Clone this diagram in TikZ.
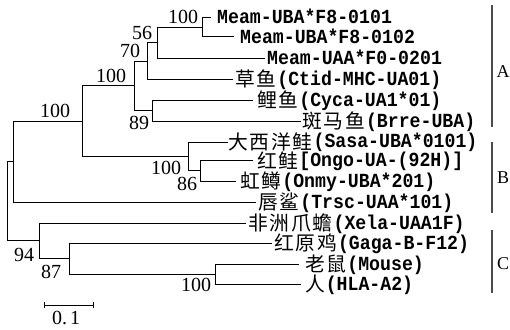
\documentclass[tikz,border=0pt]{standalone}
\usepackage{fontspec}
\setmainfont{Liberation Serif}
\newfontfamily\latmono{Liberation Mono}[FakeStretch=0.91]
\newfontfamily\cjk{Noto Sans CJK SC}
\makeatletter
\newcommand{\zh}[1]{{\cjk\mdseries\fontsize{19.8}{22}\selectfont
  \@tfor\zhchar:=#1\do{\makebox[21.6pt]{\raisebox{-1.8pt}{\zhchar}}}}}
\makeatother
\tikzset{
  edge/.style={line width=1pt, line cap=rect},
  leaf/.style={anchor=base west, inner sep=0pt,
    font=\latmono\bfseries\fontsize{20}{22}\selectfont},
  boot/.style={anchor=base, inner sep=0pt, font=\fontsize{20}{22}\selectfont},
  grp/.style={anchor=base, inner sep=0pt, font=\fontsize{18}{20}\selectfont},
  bar/.style={line width=1.3pt, black!70},
}
\begin{document}
\begin{tikzpicture}[x=1pt,y=-1pt]
\useasboundingbox (0,0) rectangle (510,329);
% leaf ends
\coordinate (e1) at (210,18);
\coordinate (e2) at (233,37);
\coordinate (e3) at (264,58);
\coordinate (e4) at (232,79);
\coordinate (e5) at (252,100);
\coordinate (e6) at (300,121);
\coordinate (e7) at (227,142);
\coordinate (e8) at (252,160);
\coordinate (e9) at (235,181);
\coordinate (e10) at (255,202);
\coordinate (e11) at (245,223);
\coordinate (e12) at (271,243);
\coordinate (e13) at (298,264);
\coordinate (e14) at (300,284);
% leaf labels
\node[leaf] (t1) at (217,24) {Meam-UBA*F8-0101};
\node[leaf] (t2) at (240,43) {Meam-UBA*F8-0102};
\node[leaf] (t3) at (267,64) {Meam-UAA*F0-0201};
\node[leaf] (t4) at (234,85) {\zh{草鱼}(Ctid-MHC-UA01)};
\node[leaf] (t5) at (256,106) {\zh{鲤鱼}(Cyca-UA1*01)};
\node[leaf] (t6) at (301,127) {\zh{斑马鱼}(Brre-UBA)};
\node[leaf] (t7) at (227,147.5) {\zh{大西洋鲑}(Sasa-UBA*0101)};
\node[leaf] (t8) at (256,166.5) {\zh{红鲑}[Ongo-UA-(92H)]};
\node[leaf] (t9) at (239,187) {\zh{虹鳟}(Onmy-UBA*201)};
\node[leaf] (t10) at (257,208) {\zh{唇鲨}(Trsc-UAA*101)};
\node[leaf] (t11) at (247,229) {\zh{非洲爪蟾}(Xela-UAA1F)};
\node[leaf] (t12) at (273,249) {\zh{红原鸡}(Gaga-B-F12)};
\node[leaf] (t13) at (304,270) {\zh{老鼠}(Mouse)};
\node[leaf] (t14) at (304,290) {\zh{人}(HLA-A2)};
% internal nodes
\coordinate (n1) at (202,27.5);
\coordinate (n56) at (157,42.75);
\coordinate (n70) at (147,61);
\coordinate (n89) at (152,110.5);
\coordinate (nA) at (134,85.75);
\coordinate (n86) at (200,170.5);
\coordinate (nB) at (188,156.25);
\coordinate (nAB) at (82,121);
\coordinate (nT) at (13,161.5);
\coordinate (nM) at (215,274);
\coordinate (n87) at (69,258.5);
\coordinate (n94) at (39,240.5);
\coordinate (root) at (7,201);
% edges
\draw[edge] (n1) |- (e1);
\draw[edge] (n1) |- (e2);
\draw[edge] (n56) |- (n1);
\draw[edge] (n56) |- (e3);
\draw[edge] (n70) |- (n56);
\draw[edge] (n70) |- (e4);
\draw[edge] (n89) |- (e5);
\draw[edge] (n89) |- (e6);
\draw[edge] (nA) |- (n70);
\draw[edge] (nA) |- (n89);
\draw[edge] (n86) |- (e8);
\draw[edge] (n86) |- (e9);
\draw[edge] (nB) |- (e7);
\draw[edge] (nB) |- (n86);
\draw[edge] (nAB) |- (nA);
\draw[edge] (nAB) |- (nB);
\draw[edge] (nT) |- (nAB);
\draw[edge] (nT) |- (e10);
\draw[edge] (nM) |- (e13);
\draw[edge] (nM) |- (e14);
\draw[edge] (n87) |- (e12);
\draw[edge] (n87) |- (nM);
\draw[edge] (n94) |- (e11);
\draw[edge] (n94) |- (n87);
\draw[edge] (root) |- (nT);
\draw[edge] (root) |- (n94);
% bootstrap values
\node[boot] (b1) at (183,24) {100};
\node[boot] (b2) at (142,39) {56};
\node[boot] (b3) at (130,57) {70};
\node[boot] (b4) at (111,82) {100};
\node[boot] (b5) at (55,117) {100};
\node[boot] (b6) at (139,129) {89};
\node[boot] (b7) at (166,174) {100};
\node[boot] (b8) at (187,190) {86};
\node[boot] (b9) at (24,261) {94};
\node[boot] (b10) at (51,278) {87};
\node[boot] (b11) at (196,291) {100};
% scale bar
\coordinate (s1) at (44,305);
\coordinate (s2) at (93,305);
\draw[line width=1pt] (s1) -- (s2);
\draw[line width=1pt] ([yshift=-3pt]s1) -- ([yshift=3pt]s1);
\draw[line width=1pt] ([yshift=-3pt]s2) -- ([yshift=3pt]s2);
\node[boot] (sl) at (66,324) {0.\kern3pt1};
% group bars
\draw[bar] (492,5) -- (492,127);
\draw[bar] (492,142) -- (492,213);
\draw[bar] (492,230) -- (492,293);
\node[grp] (gA) at (503,77) {A};
\node[grp] (gB) at (503,183) {B};
\node[grp] (gC) at (503,269) {C};
\end{tikzpicture}
\end{document}
